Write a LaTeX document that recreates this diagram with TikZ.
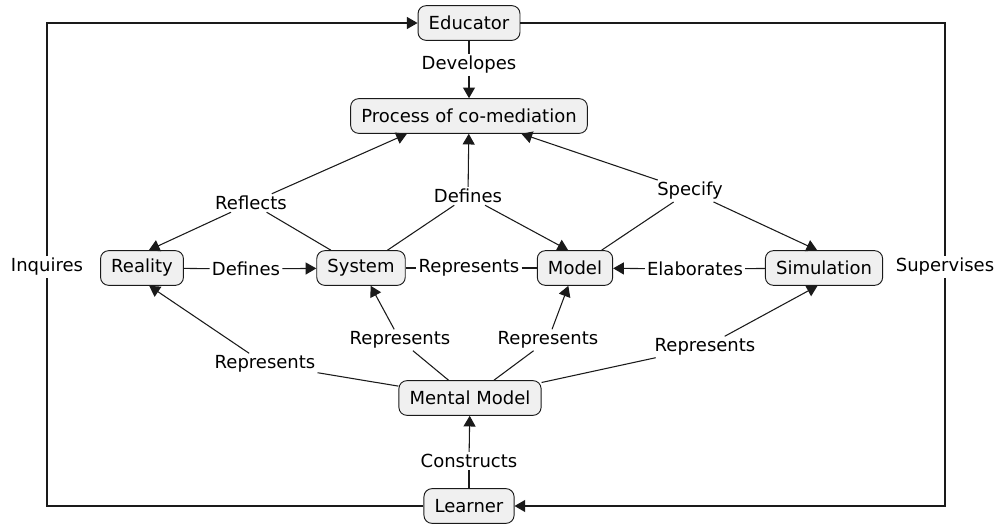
\documentclass[tikz,border=0pt]{standalone}
\usepackage{fontspec}
\setmainfont{DejaVu Sans}
\usepackage{xcolor}
\usetikzlibrary{arrows.meta, positioning}
\definecolor{cbox}{HTML}{F0F0F0}
\definecolor{cline}{HTML}{1A1A1A}

\begin{document}
\begin{tikzpicture}[
  x=0.75pt, y=-0.75pt,
  font=\fontsize{13.5}{16}\selectfont,
  >={Triangle[length=8pt, width=9pt]},
  concept/.style={draw=cline, line width=0.7pt, rounded corners=6pt, fill=cbox,
                  minimum height=26pt, inner xsep=8pt},
  link/.style={fill=white, inner sep=1.5pt},
  ln/.style={draw=cline, line width=0.8pt},
  arr/.style={ln, ->},
  ]
\useasboundingbox (0,0) rectangle (998,525);

% concepts
\node[concept] (edu)  at (469,23)  {Educator};
\node[concept] (proc) at (469,116) {Process of co-mediation};
\node[concept] (rea)  at (142,268) {Reality};
\node[concept] (sys)  at (361,268) {System};
\node[concept] (mod)  at (575,268) {Model};
\node[concept] (sim)  at (824,268) {Simulation};
\node[concept] (mm)   at (470,398) {Mental Model};
\node[concept] (lrn)  at (469,506) {Learner};

% linking phrases
\node[link] (dev)  at (469,65)  {Developes};
\node[link] (refl) at (251,203) {Reflects};
\node[link] (def1) at (468,196) {Defines};
\node[link] (spec) at (690,191) {Specify};
\node[link] (def2) at (246,269) {Defines};
\node[link] (rep0) at (469,268) {Represents};
\node[link] (elab) at (695,269) {Elaborates};
\node[link] (inq)  at (47,267)  {Inquires};
\node[link] (sup)  at (945,267) {Supervises};
\node[link] (rep1) at (265,364) {Represents};
\node[link] (rep2) at (400,340) {Represents};
\node[link] (rep3) at (548,340) {Represents};
\node[link] (rep4) at (705,347) {Represents};
\node[link] (cons) at (469,461) {Constructs};

\draw[ln] (edu) -- (dev);
\draw[arr] (dev) -- (proc);

\draw[ln] (sys) -- (refl);
\draw[arr] (refl) -- (proc.196);
\draw[arr] (refl) -- (rea.69);

\draw[ln] (sys) -- (def1);
\draw[arr] (def1) -- (proc);
\draw[arr] (def1) -- (mod.111);

\draw[ln] (mod) -- (spec);
\draw[arr] (spec) -- (proc);
\draw[arr] (spec) -- (sim.111);

\draw[ln] (rea) -- (def2);
\draw[arr] (def2) -- (sys);
\draw[ln] (sys) -- (rep0);
\draw[ln] (rep0) -- (mod);
\draw[ln] (sim) -- (elab);
\draw[arr] (elab) -- (mod);

\draw[ln] (lrn) -| (inq);
\draw[arr] (inq) |- (edu);
\draw[ln] (edu) -| (sup);
\draw[arr] (sup) |- (lrn);

\draw[ln] (mm) -- (rep1);
\draw[arr] (rep1) -- (rea.-68);
\draw[ln] (mm) -- (rep2);
\draw[arr] (rep2) -- (sys);
\draw[ln] (mm) -- (rep3);
\draw[arr] (rep3) -- (mod);
\draw[ln] (mm) -- (rep4);
\draw[arr] (rep4) -- (sim.-110);

\draw[ln] (lrn) -- (cons);
\draw[arr] (cons) -- (mm);
\end{tikzpicture}
\end{document}
